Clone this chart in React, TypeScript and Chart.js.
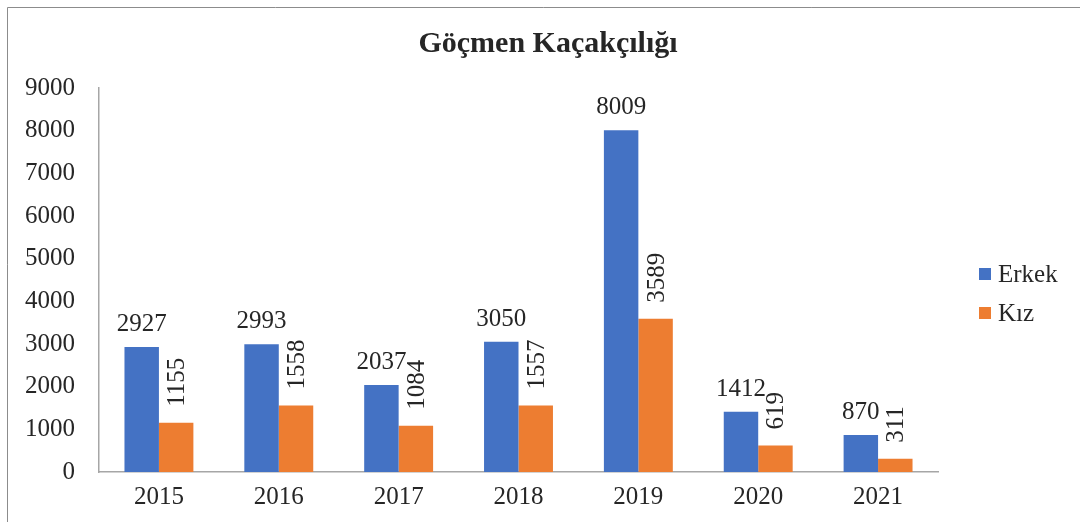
import React, { useEffect, useRef } from "react";
import { Chart, registerables } from "chart.js";

Chart.register(...registerables);

const years = ["2015", "2016", "2017", "2018", "2019", "2020", "2021"];
const erkek = [2927, 2993, 2037, 3050, 8009, 1412, 870];
const kiz = [1155, 1558, 1084, 1557, 3589, 619, 311];
const seriesNames = ["Erkek", "Kız"];
const seriesColors = ["#4472C4", "#ED7D31"];
const titleText = "Göçmen Kaçakçılığı";

const FONT = "'Liberation Serif', 'Times New Roman', serif";
const TEXT = "#262626";
const FS = 25;

const decorPlugin = {
  id: "decor",
  beforeDraw(chart: any) {
    const ctx = chart.ctx;
    ctx.save();
    ctx.fillStyle = "#ffffff";
    ctx.fillRect(0, 0, chart.width, chart.height);
    ctx.strokeStyle = "#8c8c8c";
    ctx.lineWidth = 1;
    ctx.beginPath();
    ctx.moveTo(7.5, chart.height);
    ctx.lineTo(7.5, 7.5);
    ctx.lineTo(chart.width, 7.5);
    ctx.stroke();
    ctx.restore();
  },
  afterDraw(chart: any) {
    const ctx = chart.ctx;
    ctx.save();
    // title
    ctx.fillStyle = TEXT;
    ctx.font = `bold 30px ${FONT}`;
    ctx.textAlign = "center";
    ctx.textBaseline = "alphabetic";
    ctx.fillText(titleText, 548, 52);
    // legend
    const lx = 979;
    const ys = [274, 313];
    ctx.font = `${FS}px ${FONT}`;
    ctx.textAlign = "left";
    ctx.textBaseline = "middle";
    seriesNames.forEach((name, i) => {
      ctx.fillStyle = seriesColors[i];
      ctx.fillRect(lx, ys[i] - 6, 12, 12);
      ctx.fillStyle = TEXT;
      ctx.fillText(name, lx + 19, ys[i] + 1);
    });
    ctx.restore();
  },
  afterDatasetsDraw(chart: any) {
    const ctx = chart.ctx;
    ctx.save();
    ctx.fillStyle = TEXT;
    ctx.font = `${FS}px ${FONT}`;
    const capH = 16;
    chart.data.datasets.forEach((ds: any, di: number) => {
      const meta = chart.getDatasetMeta(di);
      meta.data.forEach((el: any, i: number) => {
        const txt = String(ds.data[i]);
        if (di === 0) {
          ctx.textAlign = "center";
          ctx.textBaseline = "alphabetic";
          ctx.fillText(txt, el.x, el.y - 16);
        } else {
          ctx.save();
          ctx.translate(el.x, el.y - 16);
          ctx.rotate(-Math.PI / 2);
          ctx.textAlign = "left";
          ctx.textBaseline = "alphabetic";
          ctx.fillText(txt, 0, capH / 2);
          ctx.restore();
        }
      });
    });
    ctx.restore();
  },
};

export default function App() {
  const ref = useRef<HTMLCanvasElement | null>(null);
  useEffect(() => {
    if (!ref.current) return;
    const chart = new Chart(ref.current, {
      type: "bar",
      data: {
        labels: years,
        datasets: [
          {
            label: seriesNames[0],
            data: erkek,
            backgroundColor: seriesColors[0],
            borderWidth: 0,
          },
          {
            label: seriesNames[1],
            data: kiz,
            backgroundColor: seriesColors[1],
            borderWidth: 0,
          },
        ],
      },
      options: {
        animation: false,
        responsive: false,
        maintainAspectRatio: false,
        layout: { padding: { top: 88, right: 142, left: 0, bottom: 0 } },
        plugins: {
          legend: { display: false },
          title: { display: false },
          tooltip: { enabled: false },
        },
        datasets: { bar: { categoryPercentage: 0.575, barPercentage: 1 } },
        scales: {
          x: {
            grid: { display: false, drawTicks: false },
            border: { display: true, color: "#a6a6a6", width: 1.5 },
            ticks: { color: TEXT, font: { family: FONT, size: FS }, padding: 10, maxRotation: 0 },
            afterFit(scale: any) {
              scale.height = 50;
            },
          },
          y: {
            min: 0,
            max: 9000,
            grid: { display: false, drawTicks: false },
            border: { display: true, color: "#a6a6a6", width: 1.5 },
            ticks: {
              stepSize: 1000,
              color: TEXT,
              font: { family: FONT, size: FS },
              padding: 24,
              callback: (v: any) => String(v),
            },
            afterFit(scale: any) {
              scale.width = 99;
            },
          },
        },
      },
      plugins: [decorPlugin],
    });
    return () => chart.destroy();
  }, []);
  return (
    <div style={{ position: "fixed", left: 0, top: 0, width: 1080, height: 522 }}>
      <canvas ref={ref} width={1080} height={522} style={{ width: 1080, height: 522, display: "block" }} />
    </div>
  );
}
